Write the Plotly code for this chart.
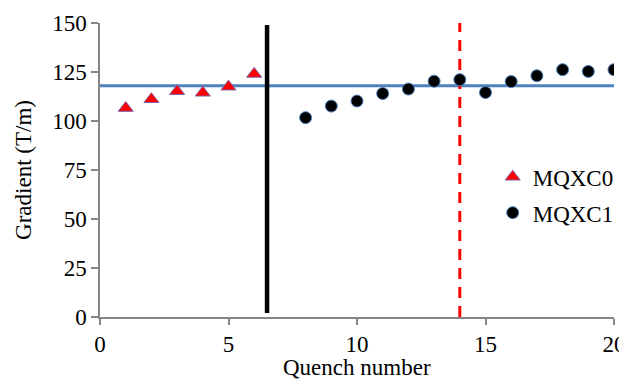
import plotly.graph_objects as go

# Data
x_mqxc0 = [1, 2, 3, 4, 5, 6]
y_mqxc0 = [106.6, 111.1, 115.2, 114.4, 117.5, 124.0]
x_mqxc1 = [8, 9, 10, 11, 12, 13, 14, 15, 16, 17, 18, 19, 20]
y_mqxc1 = [101.7, 107.6, 110.2, 114.0, 116.3, 120.3, 121.1, 114.5, 120.1, 123.1, 126.2, 125.3, 126.2]
ref_x = [0, 20]
ref_y = [118, 118]
divider_x = [6.5, 6.5]
divider_y = [2, 149]
dashed_x = [14, 14]
dashed_y = [0, 150]
x_ticks = [0, 5, 10, 15, 20]
y_ticks = [0, 25, 50, 75, 100, 125, 150]
x_title = "Quench number"
y_title = "Gradient (T/m)"

FONT = "Liberation Serif"
FS = 23
AXIS_GREY = "#868686"
tfont = dict(family=FONT, size=FS, color="black")

fig = go.Figure()
fig.add_trace(go.Scatter(x=ref_x, y=ref_y, mode="lines",
                         line=dict(color="#4F81BD", width=3), showlegend=False, hoverinfo="skip"))
fig.add_trace(go.Scatter(x=divider_x, y=divider_y, mode="lines",
                         line=dict(color="black", width=4.5), showlegend=False, hoverinfo="skip"))
fig.add_trace(go.Scatter(x=dashed_x, y=dashed_y, mode="lines",
                         line=dict(color="#FF0000", width=3, dash="11px,8px"), showlegend=False, hoverinfo="skip"))
fig.add_trace(go.Scatter(x=x_mqxc0, y=y_mqxc0, mode="markers", name="MQXC0", legendgroup="a",
                         marker=dict(symbol="triangle-up", size=13, color="#FF0000",
                                     line=dict(color="#7E5FA6", width=1))))
fig.add_trace(go.Scatter(x=x_mqxc1, y=y_mqxc1, mode="markers", name="MQXC1", legendgroup="b",
                         marker=dict(symbol="circle", size=12, color="black",
                                     line=dict(color="#4F81BD", width=1))))

# page body adds an 8px offset; figure is sized so the plot area lands where the reference has it
fig.update_layout(
    width=625, height=373,
    margin=dict(l=91.5, r=18.5, t=14.7, b=64.3),
    paper_bgcolor="white", plot_bgcolor="white",
    font=tfont,
    legend=dict(x=0.764, y=0.55, xanchor="left", yanchor="top",
                bgcolor="rgba(0,0,0,0)", borderwidth=0, tracegroupgap=3,
                traceorder="grouped", font=tfont),
    annotations=[dict(text=x_title, xref="paper", yref="paper", x=0.5, y=-0.173,
                      xanchor="center", yanchor="middle", showarrow=False, font=tfont)],
)
fig.update_xaxes(range=[0, 20], tickvals=x_ticks, showgrid=False, zeroline=False,
                 showline=True, linecolor=AXIS_GREY, linewidth=1.5,
                 ticks="outside", ticklen=6, tickcolor=AXIS_GREY, tickwidth=1.5,
                 tickfont=tfont, automargin=False)
fig.update_yaxes(range=[0, 150], tickvals=y_ticks, showgrid=False, zeroline=False,
                 showline=True, linecolor=AXIS_GREY, linewidth=1.5,
                 ticks="outside", ticklen=7, tickcolor=AXIS_GREY, tickwidth=1.5,
                 tickfont=tfont, automargin=False,
                 title=dict(text=y_title, standoff=14, font=tfont))

fig.write_html("out.html")
